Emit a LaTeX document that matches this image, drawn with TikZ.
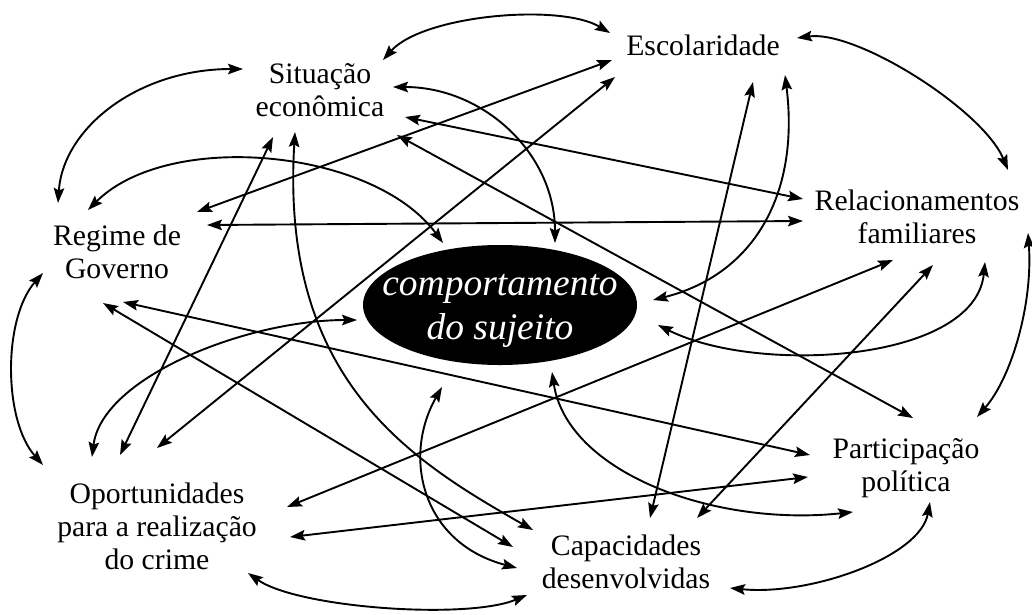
\documentclass[tikz,border=0pt]{standalone}
\usepackage{fontspec}
\setmainfont{Liberation Serif}
\usetikzlibrary{arrows.meta,shapes.geometric}

\begin{document}
\begin{tikzpicture}[x=1pt, y=-1pt, >={Stealth[length=15pt,width=10.5pt,inset=2.5pt]},
  lbl/.style={align=center, inner sep=0pt, font=\fontsize{29.7}{33}\selectfont},
  link/.style={<->, line width=1.9pt}]
\useasboundingbox (0,0) rectangle (1032,614);
% centre
\node[ellipse, fill=black, minimum width=274pt, minimum height=120pt, inner sep=0pt,
  label={[text=white, align=center, yshift=-6pt, font=\fontsize{37.5}{44}\selectfont\itshape]center:comportamento\\do sujeito}] (comp) at (500,305) {};
% fatores
\node[lbl] (sit) at (320,90) {Situação\\econômica};
\node[lbl] (esc) at (703,45) {Escolaridade};
\node[lbl] (rel) at (917,217) {Relacionamentos\\familiares};
\node[lbl] (reg) at (117,252) {Regime de\\Governo};
\node[lbl] (opo) at (157,526) {Oportunidades\\para a realização\\do crime};
\node[lbl] (par) at (906,468) {Participação\\política};
\node[lbl] (cap) at (626,562) {Capacidades\\desenvolvidas};
% ligacoes retas
\draw[link] ([shift={(85,27)}]sit.center) -- ([shift={(-114,-18)}]rel.center);
\draw[link] ([shift={(77,45)}]sit.center) -- ([shift={(7,-50)}]par.center);
\draw[link] ([shift={(-47,47)}]sit.center) -- ([shift={(-37,-71)}]opo.center);
\draw[link] ([shift={(80,-40)}]reg.center) -- ([shift={(-91,15)}]esc.center);
\draw[link] ([shift={(90,-27)}]reg.center) -- ([shift={(-114,4)}]rel.center);
\draw[link] ([shift={(-14,51)}]reg.center) -- ([shift={(-113,-15)}]cap.center);
\draw[link] ([shift={(6,50)}]reg.center) -- ([shift={(-96,-13)}]par.center);
\draw[link] ([shift={(-88,32)}]esc.center) -- ([shift={(0,-78)}]opo.center);
\draw[link] ([shift={(50,37)}]esc.center) -- ([shift={(24,-44)}]cap.center);
\draw[link] ([shift={(130,-19)}]opo.center) -- ([shift={(-24,43)}]rel.center);
\draw[link] ([shift={(133,11)}]opo.center) -- ([shift={(-98,9)}]par.center);
\draw[link] ([shift={(16,48)}]rel.center) -- ([shift={(71,-44)}]cap.center);
% ligacoes curvas
\draw[link] ([shift={(-77,-21)}]sit.center) .. controls +(-105,0) and +(5,-75) .. ([shift={(-59,-49)}]reg.center);
\draw[link] ([shift={(63,-30)}]sit.center) .. controls +(40,-45) and +(-50,-30) .. ([shift={(-93,-12)}]esc.center);
\draw[link] ([shift={(73,-3)}]sit.center) .. controls +(90,0) and +(0,-90) .. ([shift={(55,-62)}]comp.center);
\draw[link] ([shift={(-25,42)}]sit.center) .. controls +(-15,248) and +(-123,-70) .. ([shift={(-93,-32)}]cap.center);
\draw[link] ([shift={(-29,-42)}]reg.center) .. controls +(80,-80) and +(-70,-95) .. ([shift={(-57,-62)}]comp.center);
\draw[link] ([shift={(-74,21)}]reg.center) .. controls +(-40,45) and +(-40,-45) .. ([shift={(-114,-61)}]opo.center);
\draw[link] ([shift={(-65,-69)}]opo.center) .. controls +(10,-80) and +(-110,0) .. ([shift={(-143,15)}]comp.center);
\draw[link] ([shift={(91,47)}]opo.center) .. controls +(50,35) and +(-60,25) .. ([shift={(-99,33)}]cap.center);
\draw[link] ([shift={(94,-7)}]esc.center) .. controls +(60,-8) and +(-25,-60) .. ([shift={(91,-47)}]rel.center);
\draw[link] ([shift={(82,30)}]esc.center) .. controls +(15,120) and +(100,-25) .. ([shift={(153,-5)}]comp.center);
\draw[link] ([shift={(68,45)}]rel.center) .. controls +(-10,100) and +(100,50) .. ([shift={(158,20)}]comp.center);
\draw[link] ([shift={(111,16)}]rel.center) .. controls +(5,70) and +(35,-40) .. ([shift={(71,-51)}]par.center);
\draw[link] ([shift={(24,34)}]par.center) .. controls +(-10,55) and +(80,8) .. ([shift={(104,26)}]cap.center);
\draw[link] ([shift={(52,67)}]comp.center) .. controls +(15,100) and +(-140,15) .. ([shift={(-53,44)}]par.center);
\draw[link] ([shift={(-58,82)}]comp.center) .. controls +(-40,70) and +(-95,-25) .. ([shift={(-109,6)}]cap.center);
\end{tikzpicture}
\end{document}
